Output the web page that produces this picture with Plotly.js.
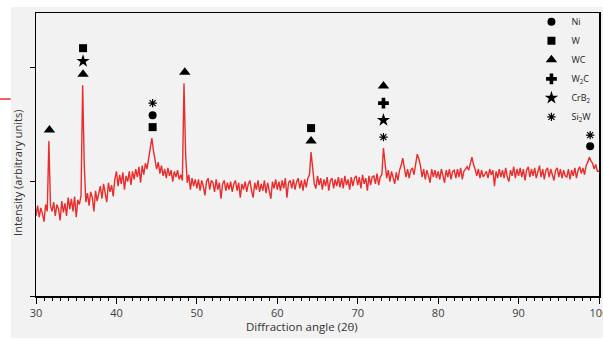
<!DOCTYPE html>
<html>
<head>
<meta charset="utf-8">
<script src="https://cdn.plot.ly/plotly-3.0.1.min.js"></script>
<style>html,body{margin:0;padding:0;background:#fff;}#chart{width:603px;height:341px;}</style>
</head>
<body>
<div id="chart"></div>
<script>
// Diffraction angle grid: 30 to 100 degrees, sampled every 0.2 degrees
var angleStart = 30;
var angleStep = 0.2;

// Intensity (arbitrary units), one value per 0.2 degree
var intensity = [
  700, 790, 690, 770, 720, 650, 800, 740, 1354, 790,      // 30.0 - 31.8
  740, 820, 700, 800, 760, 660, 830, 730, 810, 700,       // 32.0 - 33.8
  860, 760, 850, 740, 870, 690, 840, 800, 880, 1843,      // 34.0 - 35.8
  1150, 820, 900, 790, 910, 860, 740, 920, 830, 900,      // 36.0 - 37.8
  960, 850, 980, 900, 820, 990, 910, 970, 870, 1020,      // 38.0 - 39.8
  1090, 960, 1060, 980, 1080, 930, 1050, 1000, 1090, 970, // 40.0 - 41.8
  1090, 1020, 1110, 1040, 1130, 990, 1140, 1060, 1160, 1110, // 42.0 - 43.8
  1190, 1290, 1380, 1270, 1180, 1110, 1170, 1070, 1140, 1050, // 44.0 - 45.8
  1110, 1030, 1120, 1050, 1100, 1000, 1090, 1040, 1100, 1020, // 46.0 - 47.8
  1060, 1010, 1860, 1250, 990, 1060, 930, 1030, 960, 1020,    // 48.0 - 49.8
  940, 1020, 920, 1010, 960, 880, 1000, 1030, 930, 1010,  // 50.0 - 51.8
  990, 910, 1020, 930, 990, 850, 980, 1010, 920, 990,     // 52.0 - 53.8
  930, 1000, 910, 980, 1010, 920, 990, 860, 980, 930,     // 54.0 - 55.8
  1000, 910, 980, 1010, 920, 860, 990, 930, 1010, 910,    // 56.0 - 57.8
  980, 920, 1010, 900, 990, 930, 850, 1000, 940, 1020,    // 58.0 - 59.8
  930, 1000, 920, 1010, 940, 1030, 860, 990, 1010, 940,   // 60.0 - 61.8
  1020, 930, 1000, 1030, 940, 1010, 920, 1020, 950, 1030, // 62.0 - 63.8
  1060, 1258, 1090, 980, 940, 1050, 970, 1030, 930, 1020, // 64.0 - 65.8
  960, 1040, 920, 1010, 1030, 940, 1020, 960, 1040, 950,  // 66.0 - 67.8
  1030, 940, 1050, 970, 1020, 930, 1040, 960, 1030, 1050, // 68.0 - 69.8
  970, 1040, 940, 1060, 980, 1030, 920, 1050, 970, 1040,  // 70.0 - 71.8
  1050, 980, 1070, 970, 1040, 1060, 1293, 1160, 1030, 1100,   // 72.0 - 73.8
  1000, 1090, 1020, 980, 1080, 1010, 1100, 1140, 1205, 1110,  // 74.0 - 75.8
  1040, 1110, 1030, 1100, 1120, 1060, 1150, 1240, 1200, 1140, // 76.0 - 77.8
  1040, 1110, 1020, 1100, 1050, 990, 1110, 1040, 1100, 1030,  // 78.0 - 79.8
  1090, 1020, 1110, 1040, 990, 1100, 1040, 1110, 1020, 1090,  // 80.0 - 81.8
  1100, 1030, 1110, 1040, 1120, 1020, 1090, 1110, 1130, 1100, // 82.0 - 83.8
  1160, 1214, 1150, 1110, 1050, 1110, 1030, 1100, 1040, 1060, // 84.0 - 85.8
  1090, 1030, 1110, 1060, 1100, 960, 1090, 1030, 1110, 1040,  // 86.0 - 87.8
  1100, 1030, 1120, 1040, 1000, 1100, 1050, 1130, 1030, 1110, // 88.0 - 89.8
  1050, 1120, 1040, 1110, 1010, 1100, 1130, 1040, 1110, 1050, // 90.0 - 91.8
  1120, 1030, 1100, 1140, 1040, 1110, 1020, 1100, 1120, 1040, // 92.0 - 93.8
  1110, 1050, 1010, 1100, 1120, 1040, 1110, 1030, 1100, 1050, // 94.0 - 95.8
  1040, 1110, 1020, 1100, 1050, 1120, 1030, 1100, 1130, 1070, // 96.0 - 97.8
  1120, 1060, 1140, 1170, 1214, 1180, 1160, 1110, 1150, 1090, // 98.0 - 99.8
  1090                                                        // 100.0
];

// Phase identification: peak angles and the phases marked above each (top to bottom)
var peakAngles = [31.67, 35.85, 44.5, 48.5, 64.2, 73.2, 98.9];
var peakPhases = [
  ["WC"],
  ["W", "CrB2", "WC"],
  ["Si2W", "Ni", "W"],
  ["WC"],
  ["W", "WC"],
  ["WC", "W2C", "CrB2", "Si2W"],
  ["Si2W", "Ni"]
];

// Legend phases
var phaseKeys = ["Ni", "W", "WC", "W2C", "CrB2", "Si2W"];
var phaseNames = ["Ni", "W", "WC", "W<sub>2</sub>C", "CrB<sub>2</sub>", "Si<sub>2</sub>W"];

// Axis titles
var xTitle = "Diffraction angle (2θ)";
var yTitle = "Intensity (arbitrary units)";

// ---- styling / layout ----
var phaseSymbol = {Ni: "circle", W: "square", WC: "triangle-up", W2C: "cross", CrB2: "star", Si2W: "asterisk-open"};
var phaseSize = {Ni: 8, W: 8, WC: 10, W2C: 9, CrB2: 10, Si2W: 7};
var stackStep = [13, 13, 12, 13, 13, 17, 11]; // px between stacked symbols
var firstGap = 11; // px between peak top and first symbol

var yMax = 2474;
var plotH = 283;
var unitsPerPx = yMax / plotH;

var angles = intensity.map(function (v, i) { return +(angleStart + i * angleStep).toFixed(1); });

function peakTop(a) {
  var best = 0;
  for (var i = 0; i < angles.length; i++) {
    if (Math.abs(angles[i] - a) <= 0.25 && intensity[i] > best) best = intensity[i];
  }
  return best;
}

var traces = [{
  x: angles, y: intensity, type: "scatter", mode: "lines",
  line: {color: "rgb(232,45,45)", width: 1.4},
  showlegend: false, hoverinfo: "skip"
}];

phaseKeys.forEach(function (key, k) {
  var xs = [], ys = [];
  peakAngles.forEach(function (a, p) {
    var list = peakPhases[p];
    var n = list.length;
    list.forEach(function (ph, j) {
      if (ph !== key) return;
      var fromBottom = n - 1 - j;
      xs.push(a);
      ys.push(peakTop(a) + (firstGap + fromBottom * stackStep[p]) * unitsPerPx);
    });
  });
  var sym = phaseSymbol[key];
  traces.push({
    x: xs, y: ys, type: "scatter", mode: "markers", name: phaseNames[k],
    marker: {symbol: sym, size: phaseSize[key], color: "#000",
      line: {color: "#000", width: sym === "asterisk-open" ? 1.2 : 0}},
    hoverinfo: "skip"
  });
});

var layout = {
  width: 603, height: 341,
  margin: {l: 36, r: 4, t: 13, b: 45},
  paper_bgcolor: "#ffffff",
  plot_bgcolor: "#f2f2f2",
  font: {family: "Open Sans, Liberation Sans, sans-serif", size: 11, color: "#404040"},
  showlegend: true,
  legend: {
    x: 0.88, y: 1.02, xanchor: "left", yanchor: "top",
    bgcolor: "rgba(0,0,0,0)", borderwidth: 0,
    font: {size: 9, color: "#222"}, itemwidth: 30
  },
  xaxis: {
    range: [30, 100], dtick: 10, tick0: 30,
    ticks: "outside", ticklen: 6, tickwidth: 1, tickcolor: "#000",
    minor: {dtick: 1, ticks: "outside", ticklen: 3, tickcolor: "#000", tickwidth: 1},
    showline: true, linecolor: "#000", linewidth: 1.5, mirror: true,
    showgrid: false, zeroline: false, ticklabeloverflow: "allow"
  },
  yaxis: {
    range: [0, yMax], tickvals: [0, 1000, 2000],
    ticks: "outside", ticklen: 5, tickwidth: 1, tickcolor: "#000",
    showticklabels: false,
    showline: true, linecolor: "#000", linewidth: 1.5, mirror: true,
    showgrid: false, zeroline: false
  },
  annotations: [
    {text: xTitle, xref: "paper", yref: "paper", x: 0.4725, y: -0.1095,
     xanchor: "center", yanchor: "middle", showarrow: false,
     font: {size: 11.5, color: "#333"}},
    {text: yTitle, xref: "paper", yref: "paper", x: -0.032, y: 0.435,
     xanchor: "center", yanchor: "middle", showarrow: false, textangle: -90,
     font: {size: 11, color: "#333"}}
  ],
  shapes: [
    {type: "rect", xref: "paper", yref: "paper", x0: -0.0444, x1: 1.01, y0: -0.148, y1: 1.021,
     fillcolor: "#f2f2f2", line: {width: 0}, layer: "below"},
    {type: "line", xref: "paper", yref: "paper", x0: -0.064, x1: -0.045, y0: 0.696, y1: 0.696,
     line: {color: "rgb(232,45,45)", width: 1.5}}
  ]
};

Plotly.newPlot("chart", traces, layout, {displayModeBar: false, staticPlot: true});
</script>
</body>
</html>
